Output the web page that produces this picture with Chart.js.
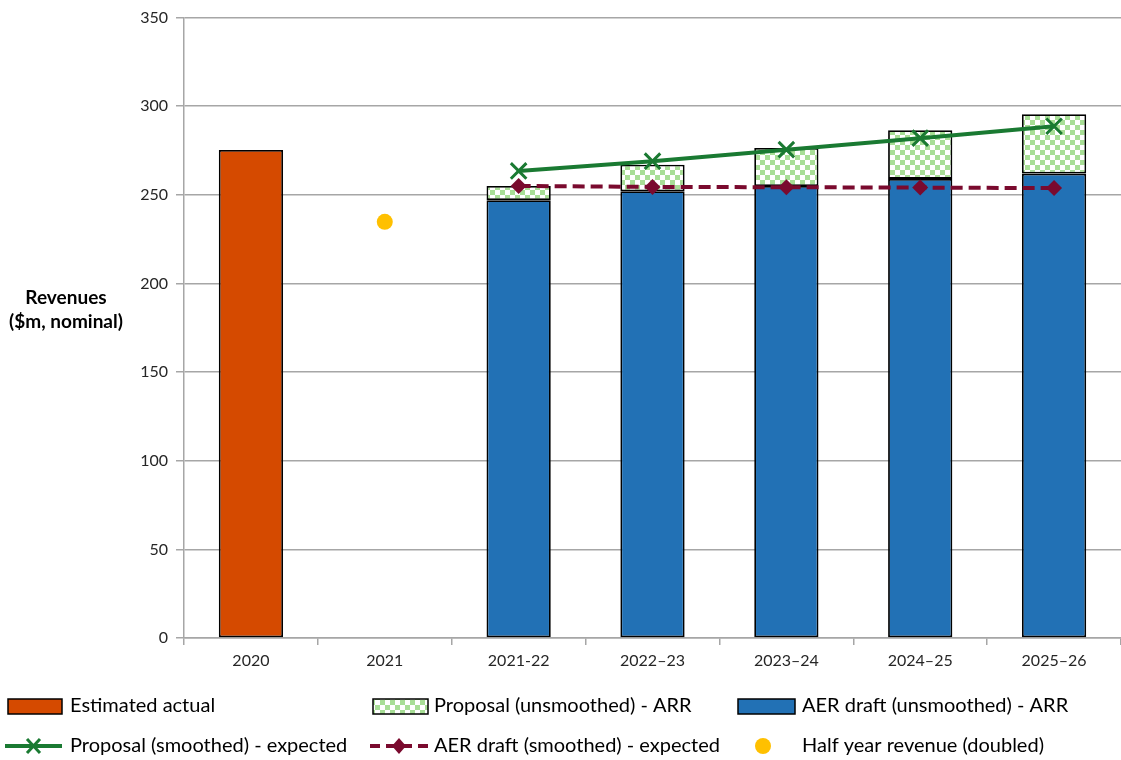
<!DOCTYPE html>
<html>
<head>
<meta charset="utf-8">
<script src="https://cdn.jsdelivr.net/npm/chart.js@4.4.1/dist/chart.umd.min.js"></script>
<style>
  html, body { margin: 0; padding: 0; background: #ffffff; overflow: hidden; }
  #wrap { position: relative; width: 1121px; height: 760px; }
</style>
</head>
<body>
<div id="wrap"><canvas id="revChart" width="1121" height="760"></canvas></div>
<script>
// Categories (years)
const categories = ['2020', '2021', '2021-22', '2022\u201323', '2023\u201324', '2024\u201325', '2025\u201326'];

// Series values ($m, nominal)
const estimatedActual     = [275.3, null, null, null, null, null, null];
const aerDraftArr         = [null, null, 247, 252, 255, 259, 262];
const proposalArr         = [null, null, 255, 267, 276.5, 286.5, 295.5];
const proposalSmoothed    = [null, null, 263.5, 269, 275.5, 282, 288.7];
const aerDraftSmoothed    = [null, null, 255, 254.5, 254.3, 254.1, 253.8];
const halfYearDoubled     = [null, 234.8, null, null, null, null, null];

// Y axis ticks
const yTicks = [0, 50, 100, 150, 200, 250, 300, 350];

// Proposal ARR is shown as the part above the AER draft ARR in the same stack
const proposalAboveDraft = proposalArr.map((v, i) => (v == null || aerDraftArr[i] == null) ? null : +(v - aerDraftArr[i]).toFixed(2));

const FONT = 'Lato, "Open Sans", sans-serif';
const C_ORANGE = '#d54a00';
const C_BLUE = '#2271b5';
const C_GREEN_LINE = '#1a7a32';
const C_MAROON = '#7a0a2e';
const C_GOLD = '#ffc000';
const C_GRID = '#a6a6a6';
const C_TEXT = '#262626';

// Checkerboard fill for the proposal ARR
function makeChecker() {
  const c = document.createElement('canvas');
  c.width = 10; c.height = 10;
  const g = c.getContext('2d');
  g.fillStyle = '#ffffff'; g.fillRect(0, 0, 10, 10);
  g.fillStyle = '#a8de96';
  g.fillRect(0, 0, 5, 5);
  g.fillRect(5, 5, 5, 5);
  return g.createPattern(c, 'repeat');
}
const ctx0 = document.getElementById('revChart').getContext('2d');
const checker = makeChecker();

// Y axis title, drawn horizontally to the left of the axis
const yTitlePlugin = {
  id: 'yTitle',
  afterDraw(chart) {
    const ctx = chart.ctx;
    ctx.save();
    ctx.fillStyle = '#000';
    ctx.font = 'bold 19px ' + FONT;
    ctx.textAlign = 'center';
    ctx.textBaseline = 'middle';
    ctx.fillText('Revenues', 66, 298);
    ctx.fillText('($m, nominal)', 66, 322);
    ctx.restore();
  }
};

// Three-column legend under the chart
const legendPlugin = {
  id: 'customLegend',
  afterDraw(chart) {
    const ctx = chart.ctx;
    const ds = chart.data.datasets;
    const byKey = k => ds.find(d => d.key === k);
    ctx.save();
    ctx.font = '20px ' + FONT;
    ctx.textBaseline = 'middle';
    ctx.textAlign = 'left';

    const row1 = 706, row2 = 746;
    const box = (x, w, fill) => {
      ctx.fillStyle = fill;
      ctx.fillRect(x, row1 - 7, w, 15);
      ctx.lineWidth = 1.5;
      ctx.strokeStyle = '#000';
      ctx.strokeRect(x, row1 - 7, w, 15);
    };
    const txt = (s, x, y) => { ctx.fillStyle = '#000'; ctx.fillText(s, x, y); };

    box(8, 54, byKey('est').backgroundColor);
    txt(byKey('est').label, 70, row1);
    box(373, 55, checker);
    txt(byKey('prop').label, 434, row1);
    box(738, 57, byKey('aer').backgroundColor);
    txt(byKey('aer').label, 802, row1);

    // green line with cross marker
    ctx.strokeStyle = C_GREEN_LINE; ctx.lineWidth = 4; ctx.setLineDash([]);
    ctx.beginPath(); ctx.moveTo(5, row2); ctx.lineTo(62, row2); ctx.stroke();
    ctx.lineWidth = 3;
    ctx.beginPath();
    ctx.moveTo(27, row2 - 7); ctx.lineTo(40, row2 + 7);
    ctx.moveTo(40, row2 - 7); ctx.lineTo(27, row2 + 7);
    ctx.stroke();
    txt(byKey('propS').label, 70, row2);

    // maroon dashed line with diamond
    ctx.strokeStyle = C_MAROON; ctx.lineWidth = 4; ctx.setLineDash([10, 6]);
    ctx.beginPath(); ctx.moveTo(370, row2); ctx.lineTo(428, row2); ctx.stroke();
    ctx.setLineDash([]);
    ctx.fillStyle = C_MAROON;
    ctx.beginPath();
    ctx.moveTo(399, row2 - 8); ctx.lineTo(406, row2); ctx.lineTo(399, row2 + 8); ctx.lineTo(392, row2);
    ctx.closePath(); ctx.fill();
    txt(byKey('aerS').label, 434, row2);

    // gold dot
    ctx.fillStyle = C_GOLD;
    ctx.beginPath(); ctx.arc(763, row2, 8, 0, Math.PI * 2); ctx.fill();
    txt(byKey('half').label, 802, row2);
    ctx.restore();
  }
};

new Chart(ctx0, {
  type: 'bar',
  data: {
    labels: categories,
    datasets: [
      { key: 'est', label: 'Estimated actual', data: estimatedActual, backgroundColor: C_ORANGE,
        borderColor: '#000', borderWidth: 1.8, stack: 'bars', order: 2, borderSkipped: false },
      { key: 'aer', label: 'AER draft (unsmoothed) - ARR', data: aerDraftArr, backgroundColor: C_BLUE,
        borderColor: '#000', borderWidth: 1.8, stack: 'bars', order: 2, borderSkipped: false },
      { key: 'prop', label: 'Proposal (unsmoothed) - ARR', data: proposalAboveDraft, backgroundColor: checker,
        borderColor: '#000', borderWidth: 1.8, stack: 'bars', order: 2, borderSkipped: false },
      { key: 'propS', type: 'line', label: 'Proposal (smoothed) - expected', data: proposalSmoothed,
        borderColor: C_GREEN_LINE, backgroundColor: C_GREEN_LINE, borderWidth: 4, stack: 'l1', order: 0,
        pointStyle: 'crossRot', pointRadius: 11, pointBorderWidth: 3, pointBorderColor: C_GREEN_LINE,
        tension: 0, spanGaps: true },
      { key: 'aerS', type: 'line', label: 'AER draft (smoothed) - expected', data: aerDraftSmoothed,
        borderColor: C_MAROON, backgroundColor: C_MAROON, borderWidth: 4, borderDash: [12, 6], stack: 'l2', order: 1,
        pointStyle: 'rectRot', pointRadius: 8, pointBorderWidth: 0, pointBackgroundColor: C_MAROON,
        tension: 0, spanGaps: true },
      { key: 'half', type: 'line', label: 'Half year revenue (doubled)', data: halfYearDoubled,
        showLine: false, stack: 'l3', order: 0, pointStyle: 'circle', pointRadius: 8,
        pointBackgroundColor: C_GOLD, pointBorderWidth: 0, backgroundColor: C_GOLD }
    ]
  },
  options: {
    responsive: false,
    animation: false,
    devicePixelRatio: 1,
    layout: { autoPadding: false, padding: { left: 0, right: 0, top: 16, bottom: 82 } },
    categoryPercentage: 1,
    barPercentage: 0.48,
    plugins: { legend: { display: false }, tooltip: { enabled: false } },
    scales: {
      x: {
        stacked: true,
        offset: true,
        grid: { display: true, offset: true, drawOnChartArea: false, drawTicks: true, tickLength: 7,
                color: C_GRID, lineWidth: 1.5 },
        border: { display: true, color: C_GRID, width: 1.5 },
        ticks: { color: C_TEXT, font: { family: FONT, size: 16 }, padding: 6, maxRotation: 0, autoSkip: false },
        afterFit(s) { s.height = 40; s.paddingLeft = 0; s.paddingRight = 0; }
      },
      y: {
        stacked: true,
        min: 0, max: 350,
        afterBuildTicks(s) { s.ticks = yTicks.map(v => ({ value: v })); },
        grid: { color: C_GRID, lineWidth: 1.5, drawTicks: true, tickLength: 8 },
        border: { display: true, color: C_GRID, width: 1.5 },
        ticks: { color: C_TEXT, font: { family: FONT, size: 16 }, padding: 8 },
        afterFit(s) { s.width = 184; }
      }
    }
  },
  plugins: [yTitlePlugin, legendPlugin]
});
</script>
</body>
</html>
